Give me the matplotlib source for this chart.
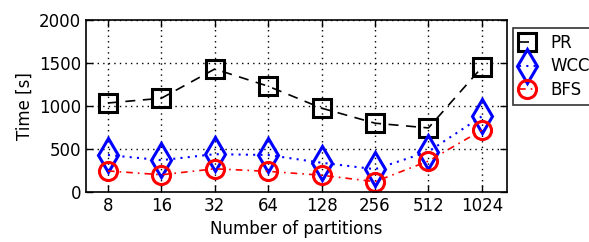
import matplotlib
matplotlib.use('Agg')
from matplotlib import pyplot as plt
import numpy as np

partitions = ['8', '16', '32', '64', '128', '256', '512', '1024']
pr_time = [1035, 1090, 1430, 1230, 975, 800, 745, 1450]
wcc_time = [430, 370, 440, 430, 340, 265, 470, 880]
bfs_time = [245, 200, 270, 240, 195, 120, 360, 720]

plt.rcParams['font.family'] = 'DejaVu Sans'
plt.rcParams['font.size'] = 12

fig = plt.figure(figsize=(5.89, 2.42), dpi=100)
ax = fig.add_axes([86 / 589, 1 - 192 / 242, (507 - 86) / 589, (192 - 20) / 242])

x = np.arange(len(partitions))
ax.plot(x, pr_time, color='black', linestyle=(0, (6, 4.5)), lw=1.2, marker='s',
        markersize=13, markerfacecolor='none', markeredgewidth=2.2, label='PR')
ax.plot(x, wcc_time, color='blue', linestyle=(0, (1, 2.5)), lw=1.5, marker='d',
        markersize=17, markerfacecolor='none', markeredgewidth=2.2, label='WCC')
ax.plot(x, bfs_time, color='red', linestyle=(0, (4, 3, 1, 3)), lw=1.2, marker='o',
        markersize=13, markerfacecolor='none', markeredgewidth=2.2, label='BFS')

ax.set_xlim(-0.41, 7.47)
ax.set_ylim(0, 2000)
ax.set_xticks(x)
ax.set_xticklabels(partitions)
ax.set_yticks([0, 500, 1000, 1500, 2000])
ax.tick_params(direction='in', top=True, right=True, length=5, width=1)
ax.grid(True, color='black', linestyle=(0, (1, 3)), lw=1)
for s in ax.spines.values():
    s.set_linewidth(1.2)
ax.set_xlabel('Number of partitions')
ax.set_ylabel('Time [s]')

leg = ax.legend(loc='upper left', bbox_to_anchor=(1.015, 0.955), numpoints=1,
                handlelength=1.0, borderaxespad=0, fancybox=False,
                frameon=True, labelspacing=0.35, handletextpad=0.9,
                borderpad=0.35)
leg.get_frame().set_edgecolor('black')
leg.get_frame().set_linewidth(1.2)

fig.savefig('out.png', dpi=100)
